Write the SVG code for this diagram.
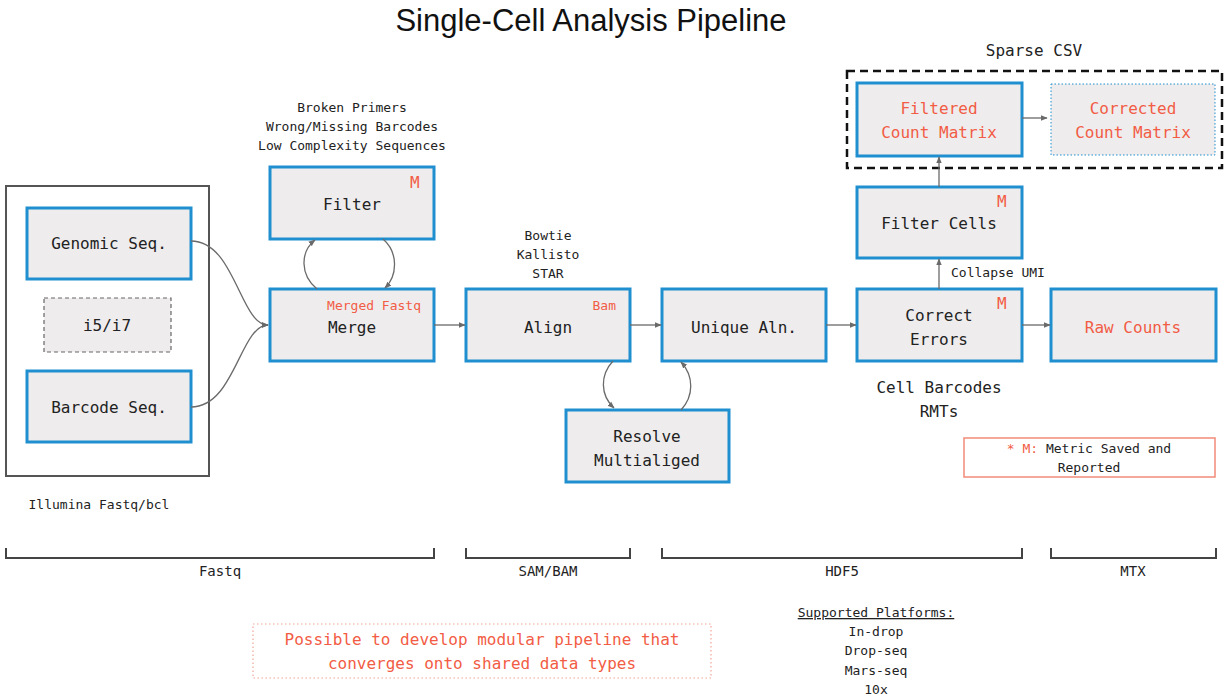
<svg xmlns="http://www.w3.org/2000/svg" width="1225" height="698" viewBox="0 0 1225 698">
  <style>
    text { font-family: "DejaVu Sans Mono", "Liberation Mono", monospace; fill: #222; }
    .title { font-family: "Liberation Sans", Arial, sans-serif; font-size: 31px; fill: #111; }
    .node { fill: #eeeced; stroke: #1f8fd0; stroke-width: 3; }
    .lbl { font-size: 16px; text-anchor: middle; }
    .red { fill: #f25c45; }
    .small { font-size: 13px; }
    .mark { font-size: 16px; fill: #f25c45; }
    .mid { text-anchor: middle; }
    .conn { fill: none; stroke: #6a6a6a; stroke-width: 1.3; }
    .bracket { fill: none; stroke: #444; stroke-width: 2; }
    .blabel { font-size: 14px; text-anchor: middle; }
  </style>
  <defs>
    <marker id="arr" viewBox="0 0 10 10" refX="9" refY="5" markerWidth="7" markerHeight="7" orient="auto" markerUnits="userSpaceOnUse">
      <path d="M0,1 L10,5 L0,9 z" fill="#6a6a6a"/>
    </marker>
  </defs>

  <rect width="1225" height="698" fill="#ffffff"/>

  <text class="title" x="591" y="31" text-anchor="middle">Single-Cell Analysis Pipeline</text>

  <!-- input container -->
  <g id="illumina">
    <rect x="6" y="186" width="203" height="290" fill="none" stroke="#555" stroke-width="2"/>
    <text class="small mid" x="99" y="509">Illumina Fastq/bcl</text>
  </g>

  <g id="genomic">
    <rect class="node" x="27" y="208" width="164" height="71"/>
    <text class="lbl" x="109" y="249">Genomic Seq.</text>
  </g>
  <g id="index">
    <rect x="44" y="298" width="127" height="54" fill="#eeeced" stroke="#666" stroke-width="1.2" stroke-dasharray="4 3"/>
    <text class="lbl" x="107" y="331">i5/i7</text>
  </g>
  <g id="barcode">
    <rect class="node" x="27" y="371" width="164" height="71"/>
    <text class="lbl" x="109" y="413">Barcode Seq.</text>
  </g>

  <g id="filter">
    <text class="small mid" x="352" y="112">Broken Primers</text>
    <text class="small mid" x="352" y="131">Wrong/Missing Barcodes</text>
    <text class="small mid" x="352" y="150">Low Complexity Sequences</text>
    <rect class="node" x="270" y="167" width="164" height="72"/>
    <text class="mark" x="410" y="188">M</text>
    <text class="lbl" x="352" y="210">Filter</text>
  </g>

  <g id="merge">
    <rect class="node" x="270" y="289" width="164" height="72"/>
    <text class="small red" x="421" y="310" text-anchor="end">Merged Fastq</text>
    <text class="lbl" x="352" y="333">Merge</text>
  </g>

  <g id="align">
    <text class="small mid" x="548" y="240">Bowtie</text>
    <text class="small mid" x="548" y="259">Kallisto</text>
    <text class="small mid" x="548" y="278">STAR</text>
    <rect class="node" x="466" y="289" width="164" height="72"/>
    <text class="small red" x="616" y="310" text-anchor="end">Bam</text>
    <text class="lbl" x="548" y="333">Align</text>
  </g>

  <g id="unique">
    <rect class="node" x="662" y="289" width="164" height="72"/>
    <text class="lbl" x="744" y="333">Unique Aln.</text>
  </g>

  <g id="resolve">
    <rect class="node" x="566" y="410" width="163" height="72"/>
    <text class="lbl" x="647" y="442">Resolve</text>
    <text class="lbl" x="647" y="466">Multialiged</text>
  </g>

  <g id="correct">
    <rect class="node" x="857" y="289" width="165" height="72"/>
    <text class="mark" x="997" y="309">M</text>
    <text class="lbl" x="939" y="321">Correct</text>
    <text class="lbl" x="939" y="345">Errors</text>
    <text class="lbl" x="939" y="393">Cell Barcodes</text>
    <text class="lbl" x="939" y="417">RMTs</text>
  </g>

  <g id="raw">
    <rect class="node" x="1051" y="289" width="165" height="72"/>
    <text class="lbl red" x="1133" y="333">Raw Counts</text>
  </g>

  <g id="filtercells">
    <rect class="node" x="857" y="187" width="165" height="71"/>
    <text class="mark" x="997" y="207">M</text>
    <text class="lbl" x="939" y="229">Filter Cells</text>
  </g>

  <g id="sparse">
    <text class="lbl" x="1034" y="56" font-size="15">Sparse CSV</text>
    <rect x="847" y="71" width="375" height="97" fill="none" stroke="#111" stroke-width="2.5" stroke-dasharray="8 5"/>
  </g>

  <g id="filtered">
    <rect class="node" x="857" y="83" width="165" height="73"/>
    <text class="lbl red" x="939" y="114">Filtered</text>
    <text class="lbl red" x="939" y="138">Count Matrix</text>
  </g>

  <g id="corrected">
    <rect x="1051" y="84" width="164" height="71" fill="#eeeced" stroke="#1f8fd0" stroke-width="1" stroke-dasharray="1.5 2"/>
    <text class="lbl red" x="1133" y="114">Corrected</text>
    <text class="lbl red" x="1133" y="138">Count Matrix</text>
  </g>

  <g id="legend">
    <rect x="964" y="438" width="251" height="39" fill="#fff" stroke="#f28a78" stroke-width="1.5"/>
    <text class="small" x="1089" y="453" text-anchor="middle"><tspan class="red">* M:</tspan> Metric Saved and</text>
    <text class="small mid" x="1089" y="472">Reported</text>
  </g>

  <!-- connectors -->
  <g id="connectors">
    <path class="conn" d="M191,241 C235,241 240,325 268,325" marker-end="url(#arr)"/>
    <path class="conn" d="M191,407 C235,407 240,325 268,325" marker-end="url(#arr)"/>
    <path class="conn" d="M317,289 C300,275 300,252 315,240" marker-end="url(#arr)"/>
    <path class="conn" d="M383,239 C398,252 398,275 385,288" marker-end="url(#arr)"/>
    <path class="conn" d="M434,325 L465,325" marker-end="url(#arr)"/>
    <path class="conn" d="M630,325 L661,325" marker-end="url(#arr)"/>
    <path class="conn" d="M613,361 C600,375 600,395 614,408" marker-end="url(#arr)"/>
    <path class="conn" d="M681,410 C694,396 694,376 681,362" marker-end="url(#arr)"/>
    <path class="conn" d="M826,325 L856,325" marker-end="url(#arr)"/>
    <path class="conn" d="M1022,325 L1050,325" marker-end="url(#arr)"/>
    <path class="conn" d="M939,289 L939,259" marker-end="url(#arr)"/>
    <text class="small" x="951" y="277">Collapse UMI</text>
    <path class="conn" d="M939,187 L939,157" marker-end="url(#arr)"/>
    <path class="conn" d="M1022,118 L1047,118" marker-end="url(#arr)"/>
  </g>

  <!-- data type brackets -->
  <g id="brackets">
    <path class="bracket" d="M6,548 V558 H434 V548"/>
    <text class="blabel" x="220" y="576">Fastq</text>
    <path class="bracket" d="M466,548 V558 H630 V548"/>
    <text class="blabel" x="548" y="576">SAM/BAM</text>
    <path class="bracket" d="M662,548 V558 H1022 V548"/>
    <text class="blabel" x="842" y="576">HDF5</text>
    <path class="bracket" d="M1051,548 V558 H1216 V548"/>
    <text class="blabel" x="1133" y="576">MTX</text>
  </g>

  <g id="note">
    <rect x="253" y="624" width="458" height="54" fill="none" stroke="#f4a597" stroke-width="1.2" stroke-dasharray="1.5 2.5"/>
    <text class="lbl red" x="482" y="645">Possible to develop modular pipeline that</text>
    <text class="lbl red" x="482" y="669">converges onto shared data types</text>
  </g>

  <g id="platforms">
    <text class="small mid" x="876" y="617" text-decoration="underline">Supported Platforms:</text>
    <text class="small mid" x="876" y="636">In-drop</text>
    <text class="small mid" x="876" y="655">Drop-seq</text>
    <text class="small mid" x="876" y="675">Mars-seq</text>
    <text class="small mid" x="876" y="694">10x</text>
  </g>
</svg>
